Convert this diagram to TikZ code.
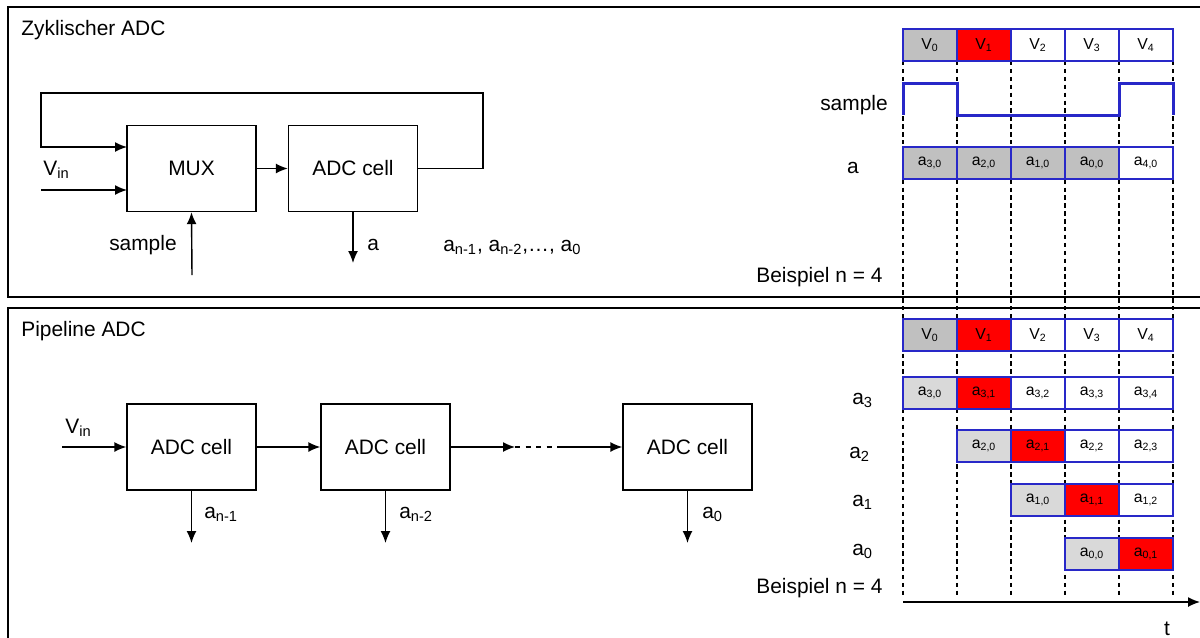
\documentclass[tikz,border=0pt]{standalone}
\usepackage{fontspec}
\setmainfont{Liberation Sans}
\usetikzlibrary{arrows.meta}
\definecolor{cellblue}{RGB}{40,40,200}
\definecolor{cellgray}{RGB}{192,192,192}
\definecolor{cellltgray}{RGB}{217,217,217}
\definecolor{cellred}{RGB}{255,0,0}
\begin{document}
\begin{tikzpicture}[x=0.02cm,y=-0.02cm,font=\fontsize{11.9}{14}\selectfont]
    \tikzset{block/.style = {shape=rectangle,draw,line width=0.8pt,minimum width=2.58cm,minimum height=1.72cm}}
    \tikzset{edge/.style = {->,> = {Latex[length=2.4mm,width=2mm]},line width=0.8pt}}
    \tikzset{lbl/.style = {inner sep=0pt}}
    \tikzset{cell/.style = {shape=rectangle,draw=cellblue,fill=white,line width=0.8pt,minimum width=1.08cm,minimum height=0.64cm,inner sep=0pt,font=\fontsize{9}{10}\selectfont}}
    \tikzset{guide/.style = {dash pattern=on 2.5pt off 2pt,line width=0.6pt}}
    \tikzset{wave/.style = {draw=cellblue,line width=1.7pt}}
    \clip (0,0) rectangle (1200,637);
    \useasboundingbox (0,0) rectangle (1200,637);
    % frames
    \draw[line width=0.8pt] (1210,7) -- (8,7) -- (8,297) -- (1210,297);
    \draw[line width=0.8pt] (1210,308) -- (8,308) -- (8,650);
    % zyklischer ADC
    \node[lbl,anchor=base west] (title1) at (21,35) {Zyklischer ADC};
    \node[block] (mux) at (191.5,168.5) {MUX};
    \node[block] (adc) at (353,168.5) {ADC cell};
    \coordinate (fbr) at (483,93);
    \coordinate (fbl) at (41,93);
    \coordinate (muxa) at (127,147);
    \coordinate (muxb) at (127,190);
    \coordinate (vin) at (41,190);
    \coordinate (smp) at (192,275);
    \coordinate (aout) at (353,263);
    \draw[edge] (adc.east) -| (fbr) -- (fbl) |- (muxa);
    \draw[edge] (vin) -- (muxb);
    \draw[edge] (mux) -- (adc);
    \draw[edge] (smp) -- (mux.south);
    \draw[edge] (adc.south) -- (aout);
    \node[lbl,anchor=base west] (vinlbl) at (43,175) {V\textsubscript{in}};
    \node[lbl,anchor=base east] (smplbl) at (177,250) {sample};
    \node[lbl,anchor=base west] (albl) at (367,250) {a};
    \node[lbl,anchor=base west] (seq) at (443,251) {a\textsubscript{n-1}, a\textsubscript{n-2},…, a\textsubscript{0}};
    % pipeline ADC
    \node[lbl,anchor=base west] (title2) at (21,336) {Pipeline ADC};
    \node[block] (cell1) at (191.5,447) {ADC cell};
    \node[block] (cell2) at (385.5,447) {ADC cell};
    \node[block] (cell3) at (687.5,447) {ADC cell};
    \coordinate (pvin) at (62,447);
    \coordinate (dots1) at (515,447);
    \coordinate (dots2) at (558,447);
    \coordinate (out1) at (191.5,543);
    \coordinate (out2) at (385.5,543);
    \coordinate (out3) at (687.5,543);
    \draw[edge] (pvin) -- (cell1);
    \draw[edge] (cell1) -- (cell2);
    \draw[edge] (cell2) -- (dots1);
    \draw[dashed,line width=0.8pt] (dots1) -- (dots2);
    \draw[edge] (dots2) -- (cell3);
    \draw[edge] (cell1.south) -- (out1);
    \draw[edge] (cell2.south) -- (out2);
    \draw[edge] (cell3.south) -- (out3);
    \node[lbl,anchor=base west] (pvinlbl) at (65,433) {V\textsubscript{in}};
    \node[lbl,anchor=base west] (o1lbl) at (204,518) {a\textsubscript{n-1}};
    \node[lbl,anchor=base west] (o2lbl) at (399,518) {a\textsubscript{n-2}};
    \node[lbl,anchor=base west] (o3lbl) at (702,518) {a\textsubscript{0}};
    % timing
    \draw[guide] (903,61) -- (903,598);
    \draw[guide] (957,61) -- (957,598);
    \draw[guide] (1011,61) -- (1011,598);
    \draw[guide] (1065,61) -- (1065,598);
    \draw[guide] (1119,61) -- (1119,598);
    \draw[guide] (1173,61) -- (1173,598);
    \node[cell,fill=cellgray] (tv0) at (930,45) {V\textsubscript{0}};
    \node[cell,fill=cellred] (tv1) at (984,45) {V\textsubscript{1}};
    \node[cell] (tv2) at (1038,45) {V\textsubscript{2}};
    \node[cell] (tv3) at (1092,45) {V\textsubscript{3}};
    \node[cell] (tv4) at (1146,45) {V\textsubscript{4}};
    \draw[wave] (903,115) -- (903,83) -- (957,83) -- (957,115) -- (1119,115) -- (1119,83) -- (1173,83) -- (1173,115);
    \node[cell,fill=cellgray] (ta0) at (930,163) {a\textsubscript{3,0}};
    \node[cell,fill=cellgray] (ta1) at (984,163) {a\textsubscript{2,0}};
    \node[cell,fill=cellgray] (ta2) at (1038,163) {a\textsubscript{1,0}};
    \node[cell,fill=cellgray] (ta3) at (1092,163) {a\textsubscript{0,0}};
    \node[cell] (ta4) at (1146,163) {a\textsubscript{4,0}};
    \node[lbl,anchor=base east] (tsmp) at (888,110) {sample};
    \node[lbl,anchor=base] (ta) at (853,173) {a};
    \node[lbl,anchor=base west] (tex) at (756,282) {Beispiel n = 4};
    \node[cell,fill=cellgray] (bv0) at (930,335) {V\textsubscript{0}};
    \node[cell,fill=cellred] (bv1) at (984,335) {V\textsubscript{1}};
    \node[cell] (bv2) at (1038,335) {V\textsubscript{2}};
    \node[cell] (bv3) at (1092,335) {V\textsubscript{3}};
    \node[cell] (bv4) at (1146,335) {V\textsubscript{4}};
    \node[cell,fill=cellltgray] (r30) at (930,393) {a\textsubscript{3,0}};
    \node[cell,fill=cellred] (r31) at (984,393) {a\textsubscript{3,1}};
    \node[cell] (r32) at (1038,393) {a\textsubscript{3,2}};
    \node[cell] (r33) at (1092,393) {a\textsubscript{3,3}};
    \node[cell] (r34) at (1146,393) {a\textsubscript{3,4}};
    \node[cell,fill=cellltgray] (r20) at (984,446) {a\textsubscript{2,0}};
    \node[cell,fill=cellred] (r21) at (1038,446) {a\textsubscript{2,1}};
    \node[cell] (r22) at (1092,446) {a\textsubscript{2,2}};
    \node[cell] (r23) at (1146,446) {a\textsubscript{2,3}};
    \node[cell,fill=cellltgray] (r10) at (1038,500) {a\textsubscript{1,0}};
    \node[cell,fill=cellred] (r11) at (1092,500) {a\textsubscript{1,1}};
    \node[cell] (r12) at (1146,500) {a\textsubscript{1,2}};
    \node[cell,fill=cellltgray] (r00) at (1092,554) {a\textsubscript{0,0}};
    \node[cell,fill=cellred] (r01) at (1146,554) {a\textsubscript{0,1}};
    \node[lbl,anchor=base west] (ba3) at (852,404) {a\textsubscript{3}};
    \node[lbl,anchor=base west] (ba2) at (849,458) {a\textsubscript{2}};
    \node[lbl,anchor=base west] (ba1) at (852,506) {a\textsubscript{1}};
    \node[lbl,anchor=base west] (ba0) at (852,555) {a\textsubscript{0}};
    \node[lbl,anchor=base west] (bex) at (756,593) {Beispiel n = 4};
    \coordinate (t0) at (903,602);
    \coordinate (tend) at (1200,602);
    \draw[edge] (t0) -- (tend);
    \node[lbl,anchor=base] (tlbl) at (1167,635) {t};
\end{tikzpicture}
\end{document}
